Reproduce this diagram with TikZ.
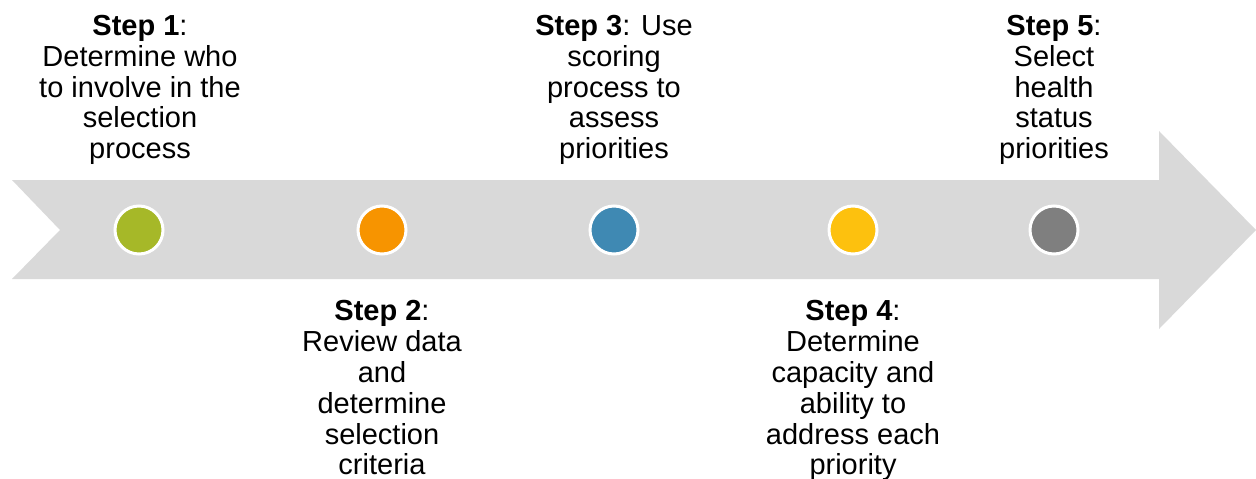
\documentclass[tikz,border=0pt]{standalone}
\usepackage{fontspec}
\setmainfont{Liberation Sans}
\definecolor{shaft}{HTML}{D9D9D9}
\definecolor{cgreen}{HTML}{A6B828}
\definecolor{corange}{HTML}{F79400}
\definecolor{cblue}{HTML}{3F89B3}
\definecolor{cyellow}{HTML}{FDC10E}
\definecolor{cgray}{HTML}{7F7F7F}
\begin{document}
\begin{tikzpicture}[x=1pt,y=-1pt,
  dot/.style={circle, draw=white, line width=3pt, minimum size=48pt, inner sep=0pt},
  steptext/.style={anchor=north, inner sep=0pt, align=center,
    font=\fontsize{29}{30.8}\selectfont}]
\useasboundingbox (0,0) rectangle (1256,479);
% timeline arrow
\fill[shaft] (12,180) -- (1159,180) -- (1159,131) -- (1256,230)
  -- (1159,329) -- (1159,279) -- (12,279) -- (60,230) -- cycle;
% milestones
\node[dot, fill=cgreen]  (c1) at (139,230) {};
\node[dot, fill=corange] (c2) at (382,230) {};
\node[dot, fill=cblue]   (c3) at (614,230) {};
\node[dot, fill=cyellow] (c4) at (853,230) {};
\node[dot, fill=cgray]   (c5) at (1054,230) {};
% step descriptions
\node[steptext] (s1) at (140,15) {\textbf{Step 1}:\\Determine who\\to involve in the\\selection\\process};
\node[steptext] (s2) at (382,300.5) {\textbf{Step 2}:\\Review data\\and\\determine\\selection\\criteria};
\node[steptext] (s3) at (614,15) {\textbf{Step 3}: Use\\scoring\\process to\\assess\\priorities};
\node[steptext] (s4) at (853,300.5) {\textbf{Step 4}:\\Determine\\capacity and\\ability to\\address each\\priority};
\node[steptext] (s5) at (1054,15) {\textbf{Step 5}:\\Select\\health\\status\\priorities};
\end{tikzpicture}
\end{document}
